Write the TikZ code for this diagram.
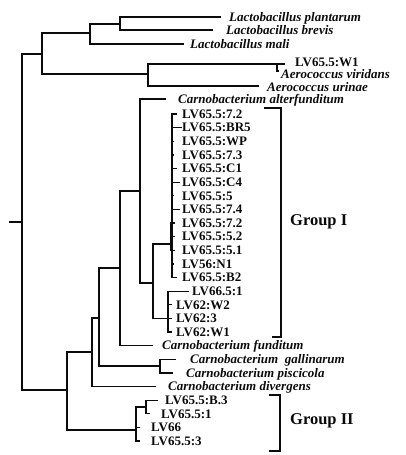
\documentclass[tikz,border=0pt]{standalone}
\usepackage{fontspec}
\setmainfont{Liberation Serif}
\usepackage{tikz}
\usetikzlibrary{positioning,calc}
\definecolor{ink}{HTML}{0B0B0B}
\tikzset{
  every picture/.style={line cap=rect, line join=miter},
  lab/.style={anchor=west, inner sep=0pt, text height=8.6pt, text depth=0pt,
    text=ink, font=\fontsize{13}{13}\selectfont\bfseries},
  spc/.style={lab, font=\fontsize{13}{13}\selectfont\bfseries\itshape},
  grp/.style={anchor=west, inner sep=0pt, text=ink,
    font=\fontsize{16.5}{16.5}\selectfont\bfseries},
  br/.style={draw=ink, line width=1.2pt},
  brk/.style={draw=ink, line width=1.4pt},
}

\begin{document}
\begin{tikzpicture}[x=1pt, y=-1pt]
  \useasboundingbox (0,0) rectangle (405,455);

  % ---------------- root ----------------
  \coordinate (stub) at (10,222);
  \coordinate (root) at (22,222);
  \coordinate (nUp) at (42,54);
  \coordinate (nLo) at (67,390);
  \draw[br] (stub) -- (root);
  \draw[br] (root) |- (nUp);
  \draw[br] (root) |- (nLo);

  % ---------------- Lactobacillus / Aerococcus ----------------
  \coordinate (nLac) at (90,33);
  \coordinate (nPB) at (120,24);
  \coordinate (nAer) at (148,74);
  \coordinate (nVir) at (277,64);
  \coordinate (tPla) at (220,17);
  \coordinate (tBre) at (212,30);
  \coordinate (tMal) at (183,44);
  \coordinate (tW1) at (284,64);
  \coordinate (tVir) at (278,71);
  \coordinate (tUri) at (258,86);
  \node[spc] (pla) at (229,17) {Lactobacillus plantarum};
  \node[spc] (bre) at (226,30) {Lactobacillus brevis};
  \node[spc] (mal) at (190,44) {Lactobacillus mali};
  \node[lab] (w1) at (295,62) {LV65.5:W1};
  \node[spc] (vir) at (281,74) {Aerococcus viridans};
  \node[spc] (uri) at (267,87) {Aerococcus urinae};
  \draw[br] (nUp) |- (nLac);
  \draw[br] (nUp) |- (nAer);
  \draw[br] (nLac) |- (nPB);
  \draw[br] (nLac) |- (tMal);
  \draw[br] (nPB) |- (tPla);
  \draw[br] (nPB) |- (tBre);
  \draw[br] (nAer) |- (nVir);
  \draw[br] (nAer) |- (tUri);
  \draw[br] (nVir) |- (tW1);
  \draw[br] (nVir) |- (tVir);

  % ---------------- Carnobacterium backbone ----------------
  \coordinate (nC1) at (92,352);
  \coordinate (nC2) at (99,318);
  \coordinate (nC3) at (120,268);
  \coordinate (nC4) at (140,191);
  \coordinate (nC5) at (153,283);
  \coordinate (nGP) at (160,366);
  \coordinate (tAlt) at (165,99);
  \coordinate (tFun) at (152,345.6);
  \coordinate (tGal) at (175,359.3);
  \coordinate (tPis) at (172,372.9);
  \coordinate (tDiv) at (155,386.5);
  \node[spc] (alt) at (178,99) {Carnobacterium alterfunditum};
  \node[spc] (fun) at (162,345.6) {Carnobacterium funditum};
  \node[spc] (gal) at (190,359.3) {Carnobacterium\ \ gallinarum};
  \node[spc] (pis) at (186,372.9) {Carnobacterium piscicola};
  \node[spc] (div) at (168,386.5) {Carnobacterium divergens};
  \draw[br] (nLo) |- (nC1);
  \draw[br] (nC1) |- (nC2);
  \draw[br] (nC1) |- (tDiv);
  \draw[br] (nC2) |- (nC3);
  \draw[br] (nC2) |- (nGP);
  \draw[br] (nGP) |- (tGal);
  \draw[br] (nGP) |- (tPis);
  \draw[br] (nC3) |- (nC4);
  \draw[br] (nC3) |- (tFun);
  \draw[br] (nC4) |- (tAlt);

  % ---------------- group I: LV65.5 strains ----------------
  \coordinate (nG1) at (172,244);
  \coordinate (nG1b) at (170.5,236.6);
  \coordinate (ta1) at (176,114);
  \coordinate (ta2) at (181,127.6);
  \coordinate (ta3) at (173.5,141.3);
  \coordinate (ta4) at (173.5,154.9);
  \coordinate (ta5) at (176,168.5);
  \coordinate (ta6) at (179,182.1);
  \coordinate (ta7) at (173.5,195.8);
  \coordinate (ta8) at (179,209.4);
  \coordinate (ta9) at (174.5,223);
  \coordinate (ta10) at (174.5,236.6);
  \coordinate (ta11) at (174.5,250.3);
  \coordinate (ta12) at (173.5,263.9);
  \coordinate (ta13) at (176,277.5);
  \node[lab] (a1) at (182,114) {LV65.5:7.2};
  \node[lab] (a2) at (182,127.6) {LV65.5:BR5};
  \node[lab] (a3) at (182,141.3) {LV65.5:WP};
  \node[lab] (a4) at (182,154.9) {LV65.5:7.3};
  \node[lab] (a5) at (182,168.5) {LV65.5:C1};
  \node[lab] (a6) at (182,182.1) {LV65.5:C4};
  \node[lab] (a7) at (182,195.8) {LV65.5:5};
  \node[lab] (a8) at (182,209.4) {LV65.5:7.4};
  \node[lab] (a9) at (182,223) {LV65.5:7.2};
  \node[lab] (a10) at (182,236.6) {LV65.5:5.2};
  \node[lab] (a11) at (182,250.3) {LV65.5:5.1};
  \node[lab] (a12) at (182,263.9) {LV56:N1};
  \node[lab] (a13) at (182,277.5) {LV65.5:B2};
  \draw[br] (nC4) |- (nC5);
  \draw[br] (nC5) |- (nG1);
  \draw[br] (nG1) |- (ta1);
  \draw[br] (nG1) |- (ta2);
  \draw[br] (nG1) |- (ta3);
  \draw[br] (nG1) |- (ta4);
  \draw[br] (nG1) |- (ta5);
  \draw[br] (nG1) |- (ta6);
  \draw[br] (nG1) |- (ta7);
  \draw[br] (nG1) |- (ta8);
  \draw[br] (nG1) |- (nG1b);
  \draw[br] (nG1b) |- (ta9);
  \draw[br] (nG1b) |- (ta10);
  \draw[br] (nG1b) |- (ta11);
  \draw[br] (nG1) |- (ta12);
  \draw[br] (nG1) |- (ta13);

  % ---------------- group I: LV62 / LV66.5 ----------------
  \coordinate (nG2) at (168,318.4);
  \coordinate (tb1) at (188,291.1);
  \coordinate (tb2) at (171,304.8);
  \coordinate (tb3) at (171,318.4);
  \coordinate (tb4) at (171,332);
  \node[lab] (b1) at (192,291.1) {LV66.5:1};
  \node[lab] (b2) at (176,304.8) {LV62:W2};
  \node[lab] (b3) at (176,318.4) {LV62:3};
  \node[lab] (b4) at (176,332) {LV62:W1};
  \draw[br] (nC5) |- (nG2);
  \draw[br] (nG2) |- (tb1);
  \draw[br] (nG2) |- (tb2);
  \draw[br] (nG2) |- (tb3);
  \draw[br] (nG2) |- (tb4);

  % ---------------- group II ----------------
  \coordinate (nH) at (136,430);
  \coordinate (nHa) at (146,407);
  \coordinate (tc1) at (157,400.1);
  \coordinate (tc2) at (149,413.8);
  \coordinate (tc3) at (139,427.4);
  \coordinate (tc4) at (139,441);
  \node[lab] (c1) at (165,400.1) {LV65.5:B.3};
  \node[lab] (c2) at (161,413.8) {LV65.5:1};
  \node[lab] (c3) at (151,427.4) {LV66};
  \node[lab] (c4) at (151,441) {LV65.5:3};
  \draw[br] (nLo) |- (nH);
  \draw[br] (nH) |- (nHa);
  \draw[br] (nH) |- (tc3);
  \draw[br] (nH) |- (tc4);
  \draw[br] (nHa) |- (tc1);
  \draw[br] (nHa) |- (tc2);

  % ---------------- brackets ----------------
  \coordinate (gIa) at (265,108);
  \coordinate (gIb) at (281,108);
  \coordinate (gIc) at (281,337);
  \coordinate (gId) at (273,337);
  \draw[brk] (gIa) -- (gIb) -- (gIc) -- (gId);
  \node[grp] (grpI) at (290,222) {Group I};
  \coordinate (gIIa) at (270,395);
  \coordinate (gIIb) at (280,395);
  \coordinate (gIIc) at (280,451);
  \coordinate (gIId) at (270,451);
  \draw[brk] (gIIa) -- (gIIb) -- (gIIc) -- (gIId);
  \node[grp] (grpII) at (290,421) {Group II};
\end{tikzpicture}
\end{document}
